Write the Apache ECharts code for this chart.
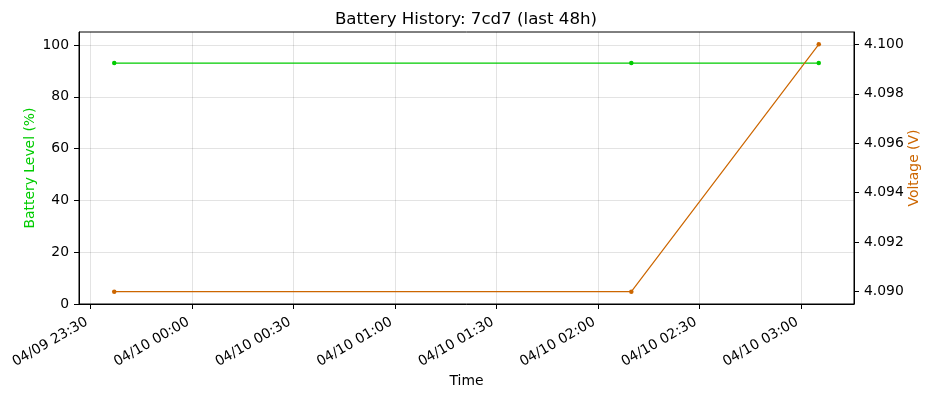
<!DOCTYPE html>
<html>
<head>
<meta charset="utf-8">
<script src="https://cdn.jsdelivr.net/npm/echarts@6/dist/echarts.min.js"></script>
<style>
html,body{margin:0;padding:0;background:#fff;}
#chart{width:932px;height:397px;}
</style>
</head>
<body>
<div id="chart"></div>
<script>
// ---- data ----
const times = ['2024-04-09T23:37:05Z', '2024-04-10T02:09:55Z', '2024-04-10T03:05:19Z'];
const batteryLevel = [93, 93, 93];
const voltage = [4.090, 4.090, 4.100];
const xTickTimes = ['2024-04-09T23:30:00Z', '2024-04-10T00:00:00Z', '2024-04-10T00:30:00Z',
  '2024-04-10T01:00:00Z', '2024-04-10T01:30:00Z', '2024-04-10T02:00:00Z',
  '2024-04-10T02:30:00Z', '2024-04-10T03:00:00Z'];
const batteryTicks = [0, 20, 40, 60, 80, 100];
const voltageTicks = [4.090, 4.092, 4.094, 4.096, 4.098, 4.100];

// ---- build ----
const tms = times.map(t => Date.parse(t));
const xTicks = xTickTimes.map(t => Date.parse(t));
const span = tms[tms.length - 1] - tms[0];
const xMin = tms[0] - span * 0.05;
const xMax = tms[tms.length - 1] + span * 0.05;
const vSpan = Math.max(...voltage) - Math.min(...voltage);
const vMin = Math.min(...voltage) - vSpan * 0.05;
const vMax = Math.max(...voltage) + vSpan * 0.05;

const pad = n => (n < 10 ? '0' : '') + n;
function fmtTime(v) {
  const d = new Date(v);
  return pad(d.getUTCMonth() + 1) + '/' + pad(d.getUTCDate()) + ' ' + pad(d.getUTCHours()) + ':' + pad(d.getUTCMinutes());
}

const GREEN = '#00cc00';
const ORANGE = '#cc6600';
const FONT = 'DejaVu Sans';
const FS = 13.9;

const chart = echarts.init(document.getElementById('chart'), null, {renderer: 'canvas'});
chart.setOption({
  animation: false,
  backgroundColor: '#fff',
  textStyle: {fontFamily: FONT},
  title: {
    text: 'Battery History: 7cd7 (last 48h)',
    left: 'center', top: 6,
    textStyle: {fontFamily: FONT, fontSize: 16.67, fontWeight: 'normal', color: '#000'}
  },
  grid: {
    left: 79, right: 78, top: 32, bottom: 93,
    containLabel: false, outerBoundsMode: 'none',
    show: true, borderColor: '#000', borderWidth: 1, backgroundColor: 'transparent'
  },
  xAxis: {
    type: 'value',
    min: xMin, max: xMax,
    name: 'Time', nameLocation: 'middle', nameGap: 70, nameMoveOverlap: false,
    nameTextStyle: {fontFamily: FONT, fontSize: FS, color: '#000'},
    axisLine: {show: true, lineStyle: {color: '#000', width: 1}},
    axisTick: {show: true, length: 5, lineStyle: {color: '#000'}, customValues: xTicks},
    axisLabel: {
      customValues: xTicks, rotate: 30, margin: 15, padding: [0, 4, 0, 0],
      fontFamily: FONT, fontSize: FS, color: '#000',
      formatter: v => fmtTime(v)
    },
    splitLine: {show: true, lineStyle: {color: 'rgba(0,0,0,0.11)', width: 1}}
  },
  yAxis: [{
    type: 'value', position: 'left',
    min: 0, max: 105,
    name: 'Battery Level (%)', nameLocation: 'middle', nameGap: 42, nameRotate: 90, nameMoveOverlap: false,
    nameTextStyle: {fontFamily: FONT, fontSize: FS, color: GREEN},
    axisLine: {show: true, lineStyle: {color: '#000', width: 1}},
    axisTick: {show: true, length: 5, lineStyle: {color: '#000'}, customValues: batteryTicks},
    axisLabel: {customValues: batteryTicks, margin: 10, fontFamily: FONT, fontSize: FS, color: '#000'},
    splitLine: {show: true, lineStyle: {color: 'rgba(0,0,0,0.11)', width: 1}}
  }, {
    type: 'value', position: 'right',
    min: vMin, max: vMax,
    name: 'Voltage (V)', nameLocation: 'middle', nameGap: 53, nameRotate: 90, nameMoveOverlap: false,
    nameTextStyle: {fontFamily: FONT, fontSize: FS, color: ORANGE},
    axisLine: {show: true, lineStyle: {color: '#000', width: 1}},
    axisTick: {show: true, length: 5, lineStyle: {color: '#000'}, customValues: voltageTicks},
    axisLabel: {customValues: voltageTicks, margin: 10, fontFamily: FONT, fontSize: FS, color: '#000',
      formatter: v => Number(v).toFixed(3)},
    splitLine: {show: false}
  }],
  series: [{
    name: 'Battery Level (%)', type: 'line', yAxisIndex: 0,
    data: tms.map((t, i) => [t, batteryLevel[i]]),
    symbol: 'circle', symbolSize: 4.5, showSymbol: true,
    lineStyle: {color: GREEN, width: 1.2},
    itemStyle: {color: GREEN},
    z: 3
  }, {
    name: 'Voltage (V)', type: 'line', yAxisIndex: 1,
    data: tms.map((t, i) => [t, voltage[i]]),
    symbol: 'circle', symbolSize: 4.5, showSymbol: true,
    lineStyle: {color: ORANGE, width: 1.2},
    itemStyle: {color: ORANGE},
    z: 3
  }]
});
</script>
</body>
</html>
